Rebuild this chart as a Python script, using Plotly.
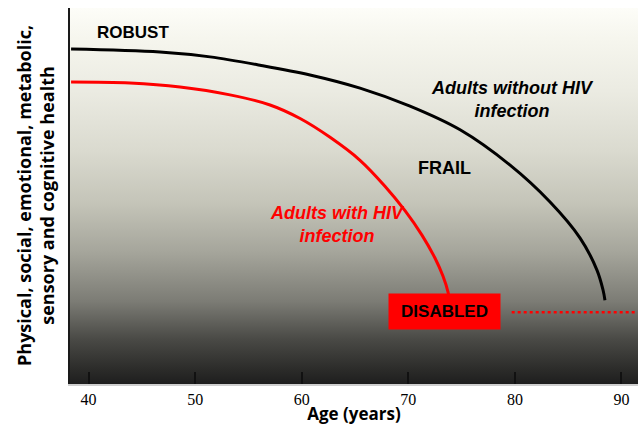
import plotly.graph_objects as go

# ---- data ----
age_ticks = [40, 50, 60, 70, 80, 90]
tick_labels = ["40", "50", "60", "70", "80", "90"]

no_hiv_age = [38.36, 46.70, 51.40, 56.09, 60.78, 65.47, 70.16, 74.86, 79.55, 83.30, 86.12, 87.70, 88.27, 88.45]
no_hiv_health = [89.1, 88.3, 87.0, 84.8, 82.2, 78.7, 73.9, 67.6, 58.2, 48.4, 38.8, 30.3, 25.0, 22.3]

hiv_age = [38.36, 43.89, 48.58, 53.27, 57.03, 59.85, 62.66, 65.47, 67.81, 69.69, 71.28, 72.50, 73.25, 73.72, 73.81]
hiv_health = [80.3, 80.05, 79.0, 76.9, 74.2, 70.6, 65.6, 59.5, 52.6, 46.1, 39.6, 33.5, 28.7, 24.5, 23.1]

disabled_age = [79.7, 91.5]
disabled_health = [19.1, 19.1]

x_range = [38.26, 91.55]
y_range = [0, 100]

fig = go.Figure()

# background gradient
fig.add_trace(go.Scatter(
    x=[x_range[0], x_range[1], x_range[1], x_range[0], x_range[0]],
    y=[y_range[0], y_range[0], y_range[1], y_range[1], y_range[0]],
    mode="lines", line=dict(width=0), fill="toself",
    fillgradient=dict(type="vertical", start=0, stop=100, colorscale=[
        [0.0, "#1e1e1e"], [0.04, "#2c2c2a"], [0.12, "#4a4a46"], [0.22, "#7c7c75"],
        [0.35, "#a5a59b"], [0.48, "#c4c4b8"], [0.62, "#dadacf"], [0.78, "#ebebe2"],
        [0.92, "#f6f6ee"], [1.0, "#fdfdf8"]]),
    hoverinfo="skip", showlegend=False))

fig.add_trace(go.Scatter(x=no_hiv_age, y=no_hiv_health, mode="lines",
                         line=dict(color="black", width=3, shape="spline"), showlegend=False))
fig.add_trace(go.Scatter(x=hiv_age, y=hiv_health, mode="lines",
                         line=dict(color="#ff0000", width=3, shape="spline"), showlegend=False))
fig.add_trace(go.Scatter(x=disabled_age, y=disabled_health, mode="lines",
                         line=dict(color="#ff0000", width=2.5, dash="dot"), showlegend=False))

sans = "Liberation Sans, Arial, sans-serif"
ann = [
    dict(x=44.2, y=93.6, text="<b>ROBUST</b>", font=dict(family=sans, size=17, color="black")),
    dict(x=79.8, y=75.7, text="<b><i>Adults without HIV<br>infection</i></b>",
         font=dict(family=sans, size=18, color="black")),
    dict(x=73.4, y=57.4, text="<b>FRAIL</b>", font=dict(family=sans, size=18, color="black")),
    dict(x=63.4, y=42.3, text="<b><i>Adults with HIV<br>infection</i></b>",
         font=dict(family=sans, size=18, color="#ff0000")),
    dict(x=73.4, y=19.3, text="<b>DISABLED</b>", font=dict(family=sans, size=17, color="black"),
         bgcolor="#ff0000", width=109, height=33, valign="middle"),
]
for a in ann:
    fig.add_annotation(showarrow=False, xref="x", yref="y", **a)

fig.add_annotation(text="<b>Physical, social, emotional, metabolic,<br>sensory and cognitive health</b>",
                   xref="paper", yref="paper", x=0, y=0.5, xshift=-35, textangle=-90,
                   showarrow=False, xanchor="center", yanchor="middle",
                   font=dict(family="Open Sans, sans-serif", size=18, color="black"))

fig.update_layout(
    width=640, height=425,
    margin=dict(l=70, r=2, t=8, b=41),
    paper_bgcolor="white", plot_bgcolor="white",
    xaxis=dict(range=x_range, tickvals=age_ticks, ticktext=tick_labels,
               ticks="inside", ticklen=12, tickwidth=2, tickcolor="#111",
               showgrid=False, zeroline=False, showline=True, linecolor="#cfcfcf", linewidth=1.5,
               tickfont=dict(family="Liberation Serif, serif", size=16, color="black"),
               title=dict(text="<b>Age (years)</b>", standoff=0,
                          font=dict(family="Open Sans, sans-serif", size=17, color="black"))),
    yaxis=dict(range=y_range, showticklabels=False, ticks="", showgrid=False, zeroline=False,
               showline=True, linecolor="#1a1a1a", linewidth=2),
)

fig.write_html("out.html", config={"displayModeBar": False},
               post_script="document.body.style.margin='0';")
